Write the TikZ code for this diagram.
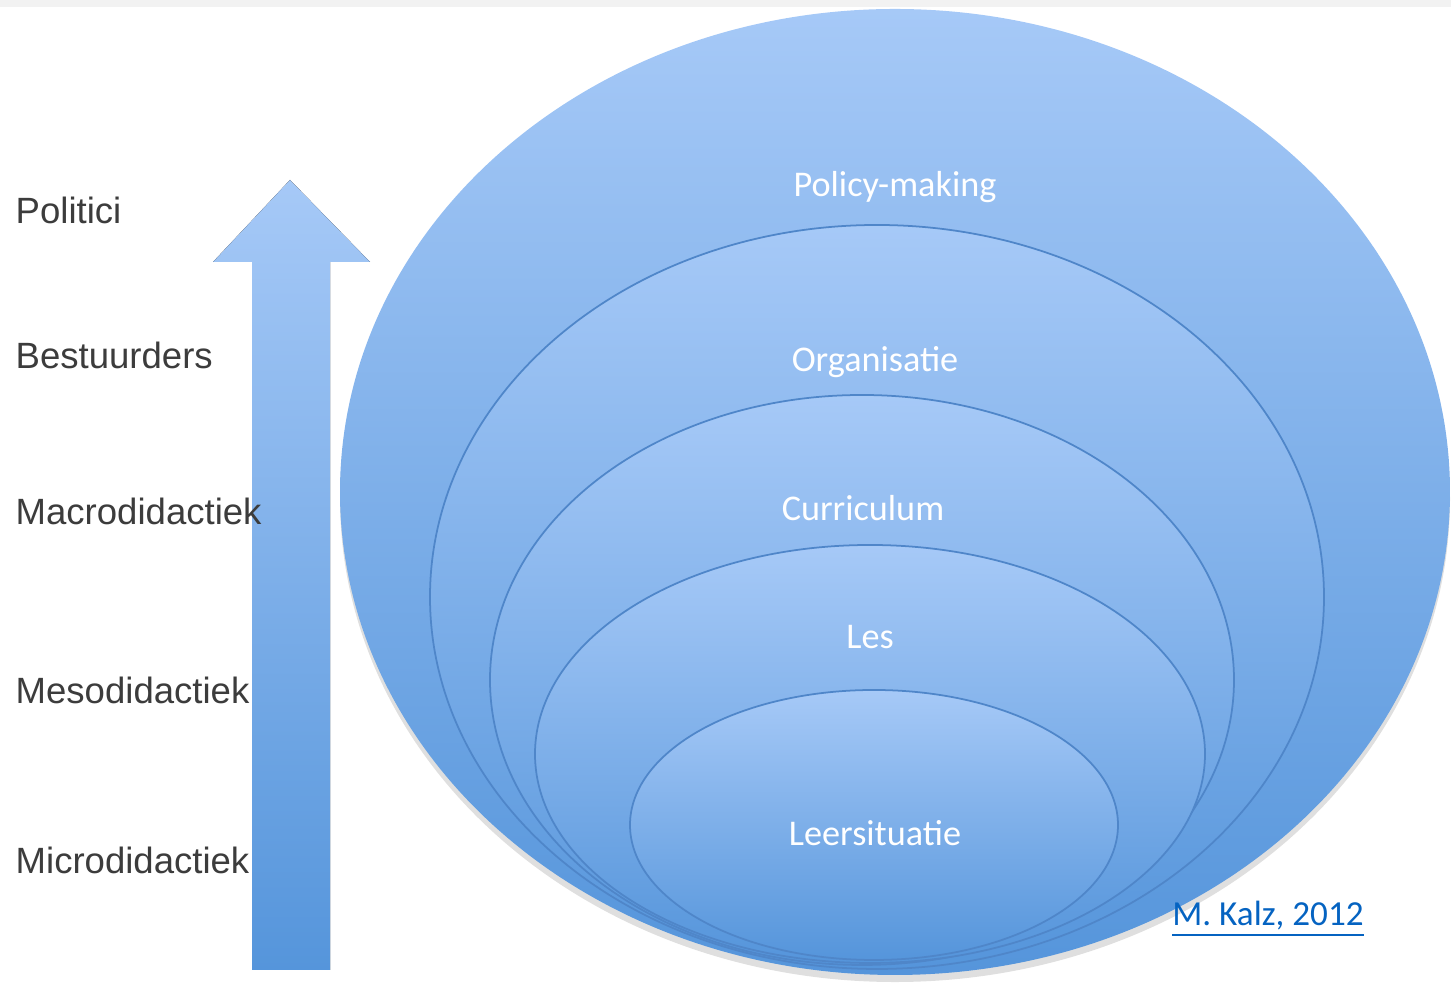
\documentclass[tikz,border=0pt]{standalone}
\usepackage{fontspec}
\setmainfont{Liberation Sans}
\newfontfamily\calibri{Carlito}
\usetikzlibrary{shapes.geometric,shadows}
\definecolor{lichtblauw}{HTML}{A6C9F7}
\definecolor{donkerblauw}{HTML}{5595DB}
\definecolor{randblauw}{HTML}{4F86C9}
\definecolor{tekstgrijs}{HTML}{3C3C3C}
\definecolor{linkblauw}{HTML}{0563C1}
\begin{document}
\begin{tikzpicture}[
  schil/.style={ellipse, inner sep=0pt, draw=randblauw, line width=0.5pt, top color=lichtblauw, bottom color=donkerblauw},
  schiltekst/.style={text=white, font=\calibri\fontsize{10.3}{12}\selectfont},
  niveau/.style={anchor=west, text=tekstgrijs, font=\fontsize{10.4}{12}\selectfont, inner sep=0pt}
]
\useasboundingbox (0,0) rectangle (14.51,9.88);
\fill[black!5] (0,9.81) rectangle (14.51,9.88);

\fill[top color=lichtblauw, bottom color=donkerblauw] (2.52,0.18) -- ++(0,7.08) -- ++(-0.39,0) -- (2.90,8.08) -- (3.70,7.26) -- ++(-0.40,0) -- (3.30,0.18) -- cycle;

\node[niveau] (politici) at (0.15,7.78) {Politici};
\node[niveau] (bestuurders) at (0.15,6.33) {Bestuurders};
\node[niveau] (macro) at (0.15,4.77) {Macrodidactiek};
\node[niveau] (meso) at (0.15,2.98) {Mesodidactiek};
\node[niveau] (micro) at (0.15,1.28) {Microdidactiek};

\node[schil, draw=none, drop shadow={opacity=0.25, shadow xshift=0pt, shadow yshift=-2pt}, minimum width=11.10cm, minimum height=9.66cm] (policy) at (8.95,4.96) {};
\node[schil, minimum width=8.94cm, minimum height=7.44cm] (organisatie) at (8.77,3.91) {};
\node[schil, minimum width=7.44cm, minimum height=5.70cm] (curriculum) at (8.62,3.08) {};
\node[schil, minimum width=6.70cm, minimum height=4.18cm] (les) at (8.70,2.34) {};
\node[schil, minimum width=4.88cm, minimum height=2.70cm] (leersituatie) at (8.74,1.63) {};

\node[schiltekst] (tpolicy) at (8.95,8.01) {Policy-making};
\node[schiltekst] (torganisatie) at (8.75,6.26) {Organisatie};
\node[schiltekst] (tcurriculum) at (8.63,4.80) {Curriculum};
\node[schiltekst] (tles) at (8.70,3.51) {Les};
\node[schiltekst] (tleersituatie) at (8.75,1.55) {Leersituatie};

\node[text=linkblauw, font=\calibri\fontsize{10}{12}\selectfont] (bron) at (12.68,0.69) {\underline{M. Kalz, 2012}};
\end{tikzpicture}
\end{document}
